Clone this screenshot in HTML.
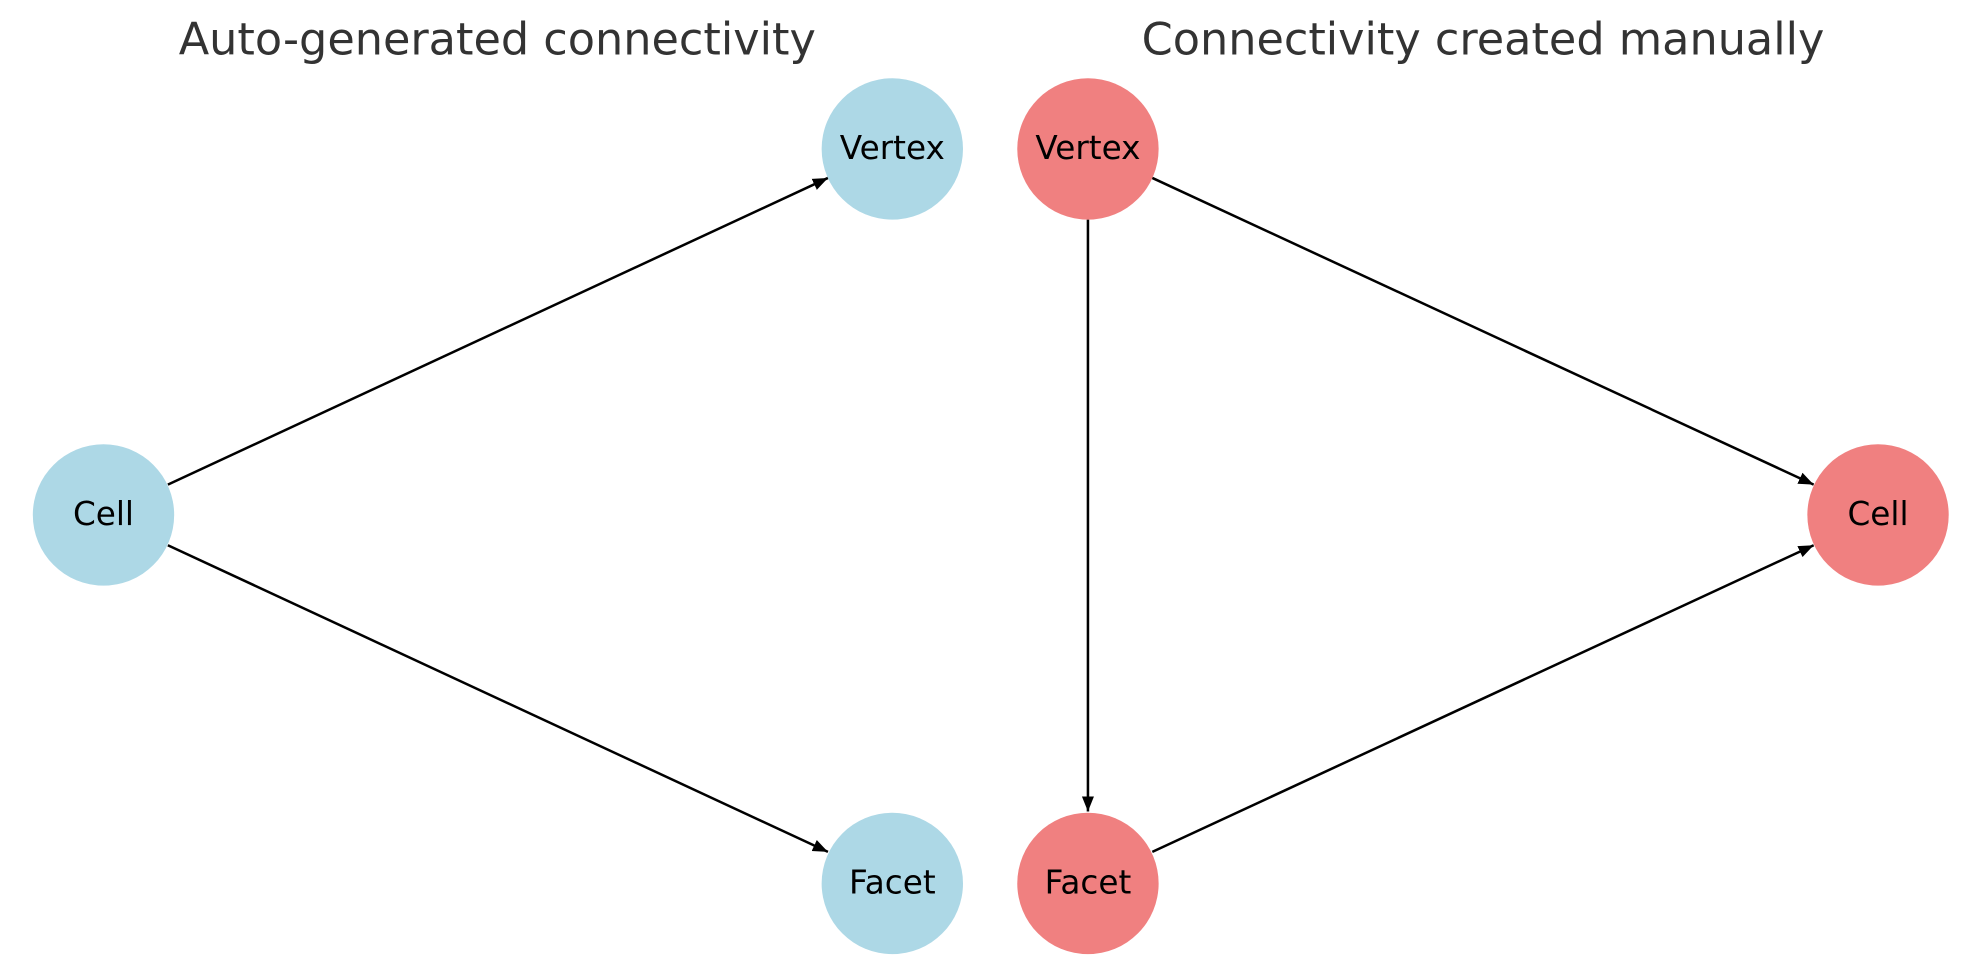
<!DOCTYPE html>
<html><head><meta charset="utf-8"><style>html,body{margin:0;padding:0;background:#fff;}svg{display:block}</style></head>
<body>
<svg width="1979" height="980" viewBox="0 0 1568 776.5" preserveAspectRatio="none" xmlns="http://www.w3.org/2000/svg">
<defs>
<marker id="a" viewBox="0 0 10 10" refX="10" refY="5" markerWidth="12" markerHeight="12" markerUnits="userSpaceOnUse" orient="auto">
<path d="M0,1 L10,5 L0,9 z" fill="#000"/>
</marker>
</defs>
<g font-family="DejaVu Sans, Liberation Sans, sans-serif" fill="#333" font-size="35.3" text-anchor="middle">
<text x="394" y="43">Auto-generated connectivity</text>
<text x="1175" y="43">Connectivity created manually</text>
</g>
<g stroke="#000" stroke-width="2" fill="none" marker-end="url(#a)">
<line x1="133" y1="384" x2="656" y2="141"/>
<line x1="133" y1="432" x2="656" y2="675"/>
<line x1="913" y1="141" x2="1437" y2="384"/>
<line x1="862" y1="174" x2="862" y2="643"/>
<line x1="913" y1="675" x2="1437" y2="432"/>
</g>
<g fill="#add8e6">
<circle cx="82" cy="408" r="56"/>
<circle cx="707" cy="118" r="56"/>
<circle cx="707" cy="700" r="56"/>
</g>
<g fill="#f08080">
<circle cx="862" cy="118" r="56"/>
<circle cx="862" cy="700" r="56"/>
<circle cx="1488" cy="408" r="56"/>
</g>
<g font-family="DejaVu Sans, Liberation Sans, sans-serif" fill="#000" font-size="25.9" text-anchor="middle">
<text x="82" y="416">Cell</text>
<text x="707" y="126">Vertex</text>
<text x="707" y="708">Facet</text>
<text x="862" y="126">Vertex</text>
<text x="862" y="708">Facet</text>
<text x="1488" y="416">Cell</text>
</g>
</svg>
</body></html>
